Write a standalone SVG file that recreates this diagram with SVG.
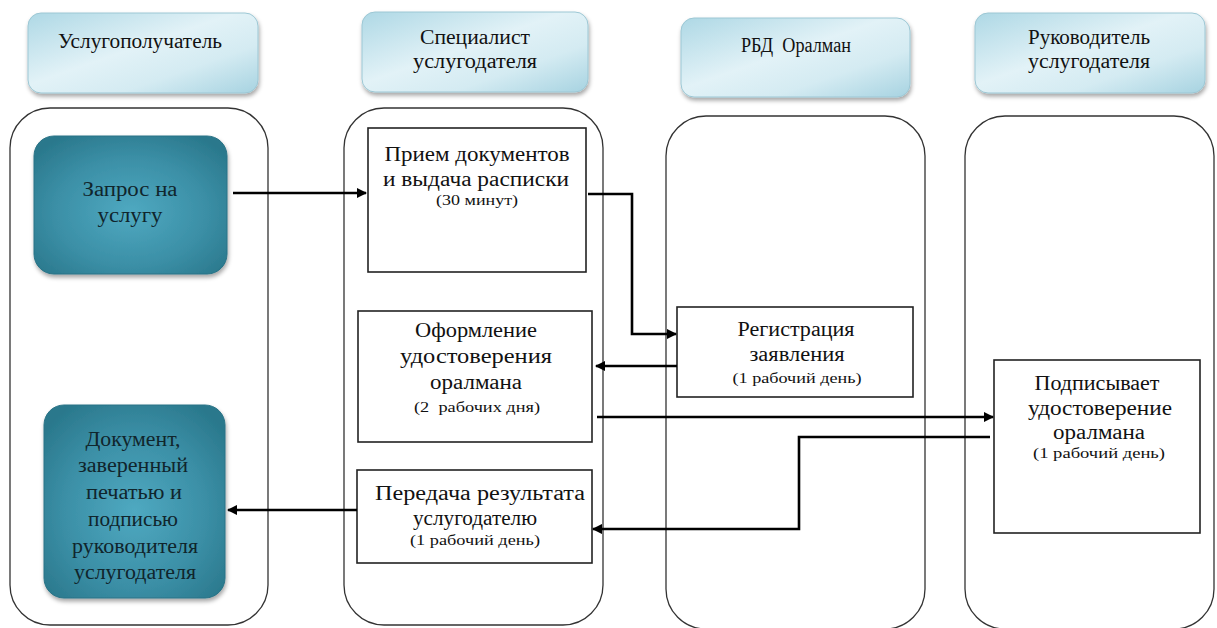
<svg xmlns="http://www.w3.org/2000/svg" width="1217" height="628" viewBox="0 0 1217 628" font-family="'Liberation Serif', 'Times New Roman', serif">
<defs>
<linearGradient id="hdr" x1="0" y1="0" x2="1" y2="1">
<stop offset="0" stop-color="#aed8e5"/>
<stop offset="0.45" stop-color="#e2f2f7"/>
<stop offset="0.7" stop-color="#d4ebf2"/>
<stop offset="1" stop-color="#a7d3e1"/>
</linearGradient>
<radialGradient id="teal" cx="0.5" cy="0.55" r="0.65">
<stop offset="0" stop-color="#4fa9c1"/>
<stop offset="0.6" stop-color="#3b8fa6"/>
<stop offset="1" stop-color="#2a788c"/>
</radialGradient>
<filter id="sh" x="-10%" y="-10%" width="125%" height="130%">
<feDropShadow dx="1" dy="3" stdDeviation="2" flood-color="#000" flood-opacity="0.35"/>
</filter>
<marker id="arr" viewBox="0 0 10 10" refX="9" refY="5" markerWidth="4" markerHeight="4" orient="auto" markerUnits="strokeWidth">
<path d="M0,0 L10,5 L0,10 z" fill="#000"/>
</marker>
</defs>
<style>
.hdr{fill:url(#hdr);stroke:#9cc7d4;stroke-width:1;filter:url(#sh)}
.lane{fill:none;stroke:#333;stroke-width:1.3}
.box{fill:#fff;stroke:#222;stroke-width:1.6}
.teal{fill:url(#teal);stroke:#2a7386;stroke-width:1;filter:url(#sh)}
text{font-family:"Liberation Serif","Times New Roman",serif;font-size:20px;fill:#111;text-anchor:middle;white-space:pre}
.sm{font-size:15px}
.tt{fill:#10252c}
.con{fill:none;stroke:#000;stroke-width:2.6;marker-end:url(#arr)}
</style>
<rect width="1217" height="628" fill="#fff"/>
<g id="lanes">
<rect class="lane" x="10" y="108" width="258" height="517" rx="40"/>
<rect class="lane" x="344" y="108" width="259" height="517" rx="40"/>
<rect class="lane" x="666" y="116" width="259" height="513" rx="40"/>
<rect class="lane" x="965" y="116" width="249" height="513" rx="40"/>
</g>
<g id="h1"><rect class="hdr" x="28" y="13" width="230" height="80" rx="13"/><text x="140" y="48" textLength="164" lengthAdjust="spacingAndGlyphs">Услугополучатель</text></g>
<g id="h2"><rect class="hdr" x="362" y="12" width="226" height="80" rx="13"/><text x="475" y="44" textLength="110" lengthAdjust="spacingAndGlyphs">Специалист</text><text x="475" y="68" textLength="124" lengthAdjust="spacingAndGlyphs">услугодателя</text></g>
<g id="h3"><rect class="hdr" x="681" y="18" width="229" height="79" rx="13"/><text x="796" y="52" textLength="110" lengthAdjust="spacingAndGlyphs">РБД  Оралман</text></g>
<g id="h4"><rect class="hdr" x="975" y="13" width="230" height="80" rx="13"/><text x="1089" y="44" textLength="122" lengthAdjust="spacingAndGlyphs">Руководитель</text><text x="1089" y="68" textLength="122" lengthAdjust="spacingAndGlyphs">услугодателя</text></g>
<g id="zapros"><rect class="teal" x="34" y="136" width="193" height="138" rx="20"/><text class="tt" x="130" y="196" textLength="95" lengthAdjust="spacingAndGlyphs">Запрос на</text><text class="tt" x="130" y="222" textLength="65" lengthAdjust="spacingAndGlyphs">услугу</text></g>
<g id="dokument"><rect class="teal" x="44" y="405" width="181" height="193" rx="20"/>
<text class="tt" x="133" y="446" textLength="95" lengthAdjust="spacingAndGlyphs">Документ,</text><text class="tt" x="133" y="472" textLength="110" lengthAdjust="spacingAndGlyphs">заверенный</text><text class="tt" x="134" y="499" textLength="96" lengthAdjust="spacingAndGlyphs">печатью и</text><text class="tt" x="133" y="526" textLength="90" lengthAdjust="spacingAndGlyphs">подписью</text><text class="tt" x="135" y="553" textLength="126" lengthAdjust="spacingAndGlyphs">руководителя</text><text class="tt" x="135" y="579" textLength="122" lengthAdjust="spacingAndGlyphs">услугодателя</text></g>
<g id="priem"><rect class="box" x="368" y="128" width="218" height="144"/><text x="477" y="161" textLength="185" lengthAdjust="spacingAndGlyphs">Прием документов</text><text x="476" y="186" textLength="186" lengthAdjust="spacingAndGlyphs">и выдача расписки</text><text class="sm" x="477" y="205" textLength="82" lengthAdjust="spacingAndGlyphs">(30 минут)</text></g>
<g id="oform"><rect class="box" x="358" y="311" width="234" height="131"/><text x="476" y="337" textLength="122" lengthAdjust="spacingAndGlyphs">Оформление</text><text x="476" y="363" textLength="152" lengthAdjust="spacingAndGlyphs">удостоверения</text><text x="476" y="389" textLength="92" lengthAdjust="spacingAndGlyphs">оралмана</text><text class="sm" x="477" y="412" textLength="126" lengthAdjust="spacingAndGlyphs">(2  рабочих дня)</text></g>
<g id="peredacha"><rect class="box" x="357" y="470" width="235" height="93"/><text x="480" y="500" textLength="210" lengthAdjust="spacingAndGlyphs">Передача результата</text><text x="475" y="525" textLength="124" lengthAdjust="spacingAndGlyphs">услугодателю</text><text class="sm" x="475" y="545" textLength="130" lengthAdjust="spacingAndGlyphs">(1 рабочий день)</text></g>
<g id="registr"><rect class="box" x="677" y="307" width="236" height="90"/><text x="796" y="336" textLength="117" lengthAdjust="spacingAndGlyphs">Регистрация</text><text x="797" y="361" textLength="95" lengthAdjust="spacingAndGlyphs">заявления</text><text class="sm" x="797" y="383" textLength="129" lengthAdjust="spacingAndGlyphs">(1 рабочий день)</text></g>
<g id="podpis"><rect class="box" x="994" y="360" width="206" height="173"/><text x="1097" y="390" textLength="125" lengthAdjust="spacingAndGlyphs">Подписывает</text><text x="1100" y="415" textLength="144" lengthAdjust="spacingAndGlyphs">удостоверение</text><text x="1099" y="439" textLength="92" lengthAdjust="spacingAndGlyphs">оралмана</text><text class="sm" x="1099" y="458" textLength="132" lengthAdjust="spacingAndGlyphs">(1 рабочий день)</text></g>
<g id="connectors">
<path class="con" d="M233,193 H366"/>
<path class="con" d="M588,194 H632 V334 H676"/>
<path class="con" d="M677,366 H596"/>
<path class="con" d="M597,417 H993"/>
<path class="con" d="M990,437 H799 V529 H593"/>
<path class="con" d="M357,510 H228"/>
</g>
</svg>
